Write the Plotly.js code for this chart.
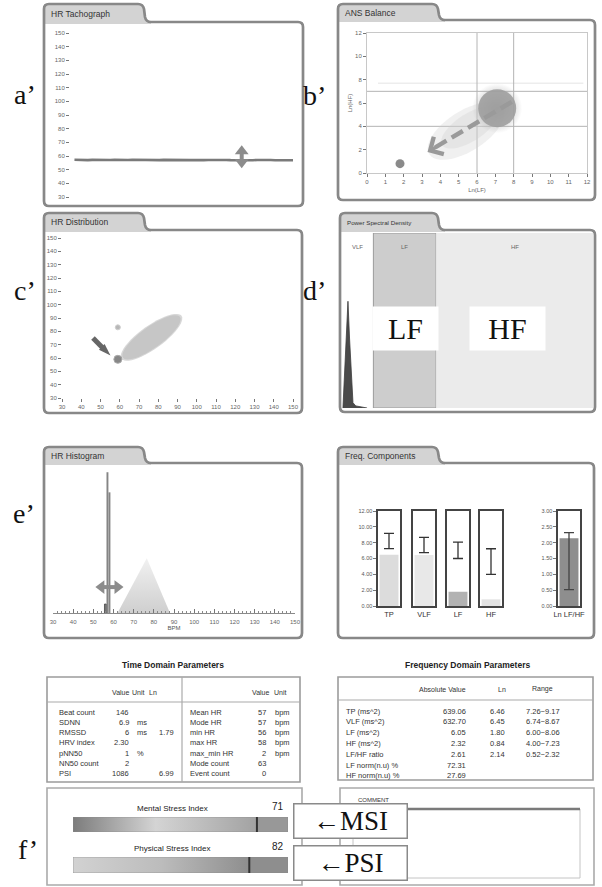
<!DOCTYPE html>
<html>
<head>
<meta charset="utf-8">
<script src="https://cdn.plot.ly/plotly-3.0.1.min.js"></script>
<style>
html,body{margin:0;padding:0;background:#fff;}
#chart{width:602px;height:887px;}
</style>
</head>
<body>
<div id="chart"></div>
<script>
// ---------------- data ----------------
// HR tachograph (bpm, successive samples)
const tachoHR = [57.3,57.1,56.9,57.0,57.2,57.1,56.8,56.9,57.1,57.2,57.0,56.9,57.1,57.3,57.2,57.0,57.1,56.9,56.8,57.0,
                 57.2,57.1,57.0,56.9,57.1,57.2,57.0,57.1,56.9,57.0,57.1,57.2,57.0,56.9,57.1,57.0,56.9,57.1,57.2,57.0,
                 56.9,57.1,57.2,57.0,57.1,56.9,57.0,57.1,57.0,56.9];
const tachoMarkIndex = 37.5;
const tachoMarkRange = [52.5, 66.5];

// ANS balance (Ln LF vs Ln HF)
const ansSubjectLnLF = [1.8];
const ansSubjectLnHF = [0.8];
const ansNormLnLF = [7.1];
const ansNormLnHF = [5.55];
const ansGridLnLF = [6, 8];
const ansGridLnHF = [4, 7];
const ansTrendFrom = [7.9, 6.1];
const ansTrendTo = [3.3, 1.8];

// HR distribution
const hrDistX = [59, 59];
const hrDistY = [83, 59];
const hrDistNormCenter = [76.5, 75.5];
const hrDistPointerFrom = [46.1, 75];
const hrDistPointerTo = [55.2, 61.8];

// Power spectral density
const psdBandNames = ['VLF', 'LF', 'HF'];
const psdBandEdges = [0, 0.05, 0.15, 0.40];
const psdFreq  = [0.0015, 0.0045, 0.0075, 0.0095, 0.012, 0.015, 0.0175, 0.022, 0.030, 0.040];
const psdPower = [0, 0.20, 0.45, 0.61, 0.40, 0.18, 0.03, 0.012, 0.006, 0];

// HR histogram
const histBpm   = [56, 57, 58];
const histCount = [4, 63, 54];
const histRefBpm   = [62, 76.5, 88];
const histRefCount = [0, 24.5, 0];
const histMarkY = 11.6;
const histMarkRange = [52, 64];

// Frequency components
const compNames = ['TP', 'VLF', 'LF', 'HF'];
const compLn    = [6.46, 6.45, 1.80, 0.84];
const compLo    = [7.26, 6.74, 6.00, 4.00];
const compHi    = [9.17, 8.67, 8.06, 7.23];
const ratioName = 'Ln LF/HF';
const ratioLn = 2.14, ratioLo = 0.52, ratioHi = 2.32;

// Tables
const timeLeftLabels = ['Beat count','SDNN','RMSSD','HRV index','pNN50','NN50 count','PSI'];
const timeLeftValues = ['146','6.9','6','2.30','1','2','1086'];
const timeLeftUnits  = ['','ms','ms','','%','',''];
const timeLeftLn     = ['','','1.79','','','','6.99'];
const timeRightLabels = ['Mean HR','Mode HR','min HR','max HR','max_min HR','Mode count','Event count'];
const timeRightValues = ['57','57','56','58','2','63','0'];
const timeRightUnits  = ['bpm','bpm','bpm','bpm','bpm','',''];

const freqLabels = ['TP (ms^2)','VLF (ms^2)','LF (ms^2)','HF (ms^2)','LF/HF ratio','LF norm(n.u) %','HF norm(n.u) %'];
const freqAbs    = ['639.06','632.70','6.05','2.32','2.61','72.31','27.69'];
const freqLn     = ['6.46','6.45','1.80','0.84','2.14','',''];
const freqRange  = ['7.26~9.17','6.74~8.67','6.00~8.06','4.00~7.23','0.52~2.32','',''];

// Stress indices
const msiValue = 71, msiScaleMax = 83;
const psiValue = 82, psiScaleMax = 100;

// ---------------- layout helpers ----------------
const W = 602, H = 887;
const FONT = 'Liberation Sans, Arial, sans-serif';
const SERIF = 'Liberation Serif, Times New Roman, serif';
const PX = x => x / W;
const PY = y => 1 - y / H;
const domX = (a, b) => [PX(a), PX(b)];
const domY = (top, bottom) => [PY(bottom), PY(top)];
const P = (x, y) => PX(x).toFixed(5) + ',' + PY(y).toFixed(5);

const panels = [
  {name:'HR Tachograph',          x0:44,  x1:303, ytab:4,   yf:22,  yb:206, xt:143, fs:8.5},
  {name:'ANS Balance',            x0:338, x1:595, ytab:4,   yf:20,  yb:200, xt:437, fs:8.5},
  {name:'HR Distribution',        x0:44,  x1:302, ytab:213, yf:230, yb:413, xt:143, fs:8.5},
  {name:'Power Spectral Density', x0:340, x1:595, ytab:213, yf:230, yb:412, xt:437, fs:6.2},
  {name:'HR Histogram',           x0:44,  x1:302, ytab:447, yf:463, yb:638, xt:143, fs:8.5},
  {name:'Freq. Components',       x0:338, x1:594, ytab:447, yf:463, yb:638, xt:437, fs:8.5}
];

function tabTop(p, r) {
  return `M${P(p.x0, p.yf + 2)} L${P(p.x0, p.ytab + r)} Q${P(p.x0, p.ytab)} ${P(p.x0 + r, p.ytab)} ` +
         `L${P(p.xt - r, p.ytab)} Q${P(p.xt, p.ytab)} ${P(p.xt + 1, p.ytab + r)} ` +
         `L${P(p.xt + 2, p.yf - r)} Q${P(p.xt + 3, p.yf)} ${P(p.xt + 3 + r, p.yf)}`;
}
function framePath(p) {
  const r = 5;
  return tabTop(p, r) +
    ` L${P(p.x1 - r, p.yf)} Q${P(p.x1, p.yf)} ${P(p.x1, p.yf + r)}` +
    ` L${P(p.x1, p.yb - r)} Q${P(p.x1, p.yb)} ${P(p.x1 - r, p.yb)}` +
    ` L${P(p.x0 + r, p.yb)} Q${P(p.x0, p.yb)} ${P(p.x0, p.yb - r)} Z`;
}
function tabFillPath(p) {
  return tabTop(p, 5) + ` L${P(p.xt + 3 + 5, p.yf + 2)} Z`;
}
function ellipsePath(c, a, b) {
  let s = '';
  for (let i = 0; i <= 48; i++) {
    const t = 2 * Math.PI * i / 48;
    const x = c[0] + a[0] * Math.cos(t) + b[0] * Math.sin(t);
    const y = c[1] + a[1] * Math.cos(t) + b[1] * Math.sin(t);
    s += (i ? 'L' : 'M') + x.toFixed(3) + ',' + y.toFixed(3);
  }
  return s + 'Z';
}
function txt(x, y, s, o) {
  return Object.assign({xref:'paper', yref:'paper', x:PX(x), y:PY(y), text:s, showarrow:false,
    xanchor:'left', yanchor:'middle', font:{family:FONT, size:7.5, color:'#333'}}, o || {});
}
const hidden = {visible:false, showgrid:false, zeroline:false, fixedrange:true};
const tickStyle = {ticks:'outside', ticklen:3, tickwidth:1, tickcolor:'#777',
  tickfont:{family:FONT, size:6, color:'#666'}, showgrid:false, zeroline:false, showline:false, fixedrange:true};

// ---------------- traces ----------------
const traces = [];

// a' tachograph
traces.push({type:'scatter', mode:'lines', x:tachoHR.map((_, i) => i), y:tachoHR, xaxis:'x', yaxis:'y',
  line:{color:'#7a7a7a', width:2.6}, hoverinfo:'skip'});
// double-headed range marker
traces.push({type:'scatter', mode:'lines', x:[tachoMarkIndex, tachoMarkIndex], y:[tachoMarkRange[0] + 2, tachoMarkRange[1] - 2],
  xaxis:'x', yaxis:'y', line:{color:'#8c8c8c', width:4}, hoverinfo:'skip'});
traces.push({type:'scatter', mode:'markers', x:[tachoMarkIndex, tachoMarkIndex], y:[tachoMarkRange[1] - 3, tachoMarkRange[0] + 3],
  xaxis:'x', yaxis:'y', marker:{symbol:['triangle-up', 'triangle-down'], size:12, color:'#8c8c8c', line:{width:0}}, hoverinfo:'skip'});

// b' ANS balance: soft norm area
traces.push({type:'scatter', mode:'markers', x:ansNormLnLF, y:ansNormLnHF, xaxis:'x2', yaxis:'y2',
  marker:{size:50, color:'rgba(158,158,158,0)', gradient:{type:'radial', color:'rgba(158,158,158,0.95)'}, line:{width:0}}, hoverinfo:'skip'});
traces.push({type:'scatter', mode:'markers', x:ansNormLnLF, y:ansNormLnHF, xaxis:'x2', yaxis:'y2',
  marker:{size:38, color:'rgba(158,158,158,0.9)', line:{width:0}}, hoverinfo:'skip'});
traces.push({type:'scatter', mode:'lines', x:[ansTrendFrom[0], ansTrendTo[0] + 0.35], y:[ansTrendFrom[1], ansTrendTo[1] + 0.33],
  xaxis:'x2', yaxis:'y2', line:{color:'#9a9a9a', width:4.5, dash:'13px,6px'}, hoverinfo:'skip'});
traces.push({type:'scatter', mode:'markers', x:ansSubjectLnLF, y:ansSubjectLnHF, xaxis:'x2', yaxis:'y2',
  marker:{size:9, color:'#8a8a8a', line:{width:0}}, hoverinfo:'skip'});

// c' HR distribution
traces.push({type:'scatter', mode:'markers', x:hrDistX, y:hrDistY, xaxis:'x3', yaxis:'y3',
  marker:{size:[5, 8], color:['#9a9a9a', '#555'], line:{width:1, color:['#bbb', '#888']}}, hoverinfo:'skip'});
traces.push({type:'scatter', mode:'lines', x:[hrDistPointerFrom[0], (hrDistPointerFrom[0] + hrDistPointerTo[0]) / 2 + 0.8],
  y:[hrDistPointerFrom[1], (hrDistPointerFrom[1] + hrDistPointerTo[1]) / 2 - 1.2], xaxis:'x3', yaxis:'y3',
  line:{color:'#666', width:5}, hoverinfo:'skip'});
traces.push({type:'scatter', mode:'markers', x:[hrDistPointerTo[0]], y:[hrDistPointerTo[1]], xaxis:'x3', yaxis:'y3',
  marker:{symbol:'arrow', size:13, angle:135, color:'#666', line:{width:0}}, hoverinfo:'skip'});

// d' PSD
traces.push({type:'scatter', mode:'lines', x:psdFreq, y:psdPower, xaxis:'x4', yaxis:'y4', fill:'tozeroy',
  fillcolor:'#4a4a4a', line:{color:'#3c3c3c', width:0.8}, hoverinfo:'skip'});

// e' HR histogram
traces.push({type:'scatter', mode:'lines', x:histRefBpm.concat([histRefBpm[0]]), y:histRefCount.concat([histRefCount[0]]),
  xaxis:'x5', yaxis:'y5', fill:'toself', fillcolor:'#dcdcdc',
  fillgradient:{type:'vertical', colorscale:[[0, '#cfcfcf'], [1, '#f1f1f1']]},
  line:{width:0}, hoverinfo:'skip'});
traces.push({type:'bar', x:histBpm, y:histCount, xaxis:'x5', yaxis:'y5', width:0.95,
  marker:{color:['#7a7a7a', '#858585', '#858585'], line:{width:[0.8, 0, 0], color:'#444'}}, hoverinfo:'skip'});
traces.push({type:'scatter', mode:'lines', x:[histMarkRange[0] + 1.5, histMarkRange[1] - 1.5], y:[histMarkY, histMarkY],
  xaxis:'x5', yaxis:'y5', line:{color:'#8c8c8c', width:4}, hoverinfo:'skip'});
traces.push({type:'scatter', mode:'markers', x:[histMarkRange[0] + 2, histMarkRange[1] - 2], y:[histMarkY, histMarkY],
  xaxis:'x5', yaxis:'y5', marker:{symbol:['triangle-left', 'triangle-right'], size:12, color:'#8c8c8c', line:{width:0}}, hoverinfo:'skip'});

// f' frequency components
compNames.forEach((n, i) => {
  const ax = String(6 + i);
  const fills = ['#dcdcdc', '#e8e8e8', '#b2b2b2', '#e2e2e2'];
  traces.push({type:'bar', x:[n], y:[compLn[i]], xaxis:'x' + ax, yaxis:'y' + ax, width:0.86,
    marker:{color:fills[i], line:{width:0}}, hoverinfo:'skip'});
  traces.push({type:'scatter', mode:'markers', x:[n], y:[(compLo[i] + compHi[i]) / 2], xaxis:'x' + ax, yaxis:'y' + ax,
    marker:{size:1, opacity:0}, error_y:{type:'data', array:[(compHi[i] - compLo[i]) / 2], visible:true,
    color:'#333', thickness:1.3, width:5}, hoverinfo:'skip'});
});
traces.push({type:'bar', x:[ratioName], y:[ratioLn], xaxis:'x10', yaxis:'y10', width:0.86,
  marker:{color:'#8e8e8e', line:{width:0}}, hoverinfo:'skip'});
traces.push({type:'scatter', mode:'markers', x:[ratioName], y:[(ratioLo + ratioHi) / 2], xaxis:'x10', yaxis:'y10',
  marker:{size:1, opacity:0}, error_y:{type:'data', array:[(ratioHi - ratioLo) / 2], visible:true,
  color:'#444', thickness:1.3, width:5}, hoverinfo:'skip'});

// stress index bars
function stressBar(val, max, ax, grad, rest) {
  traces.push({type:'scatter', mode:'lines', x:[0, val, val, 0, 0], y:[0, 0, 1, 1, 0], xaxis:'x' + ax, yaxis:'y' + ax,
    fill:'toself', fillcolor:grad[1][1], fillgradient:{type:'horizontal', colorscale:grad},
    line:{width:0.6, color:'#8a8a8a'}, hoverinfo:'skip'});
  traces.push({type:'scatter', mode:'lines', x:[val, max, max, val, val], y:[0, 0, 1, 1, 0], xaxis:'x' + ax, yaxis:'y' + ax,
    fill:'toself', fillcolor:rest, line:{width:0.6, color:'#8a8a8a'}, hoverinfo:'skip'});
  traces.push({type:'scatter', mode:'lines', x:[val, val], y:[0, 1], xaxis:'x' + ax, yaxis:'y' + ax,
    line:{width:2, color:'#333'}, hoverinfo:'skip'});
}
stressBar(msiValue, msiScaleMax, '11', [[0, '#7c7c7c'], [0.45, '#d4d4d4'], [1, '#a2a2a2']], '#989898');
stressBar(psiValue, psiScaleMax, '12', [[0, '#d2d2d2'], [0.5, '#bcbcbc'], [1, '#8e8e8e']], '#8e8e8e');

// ---------------- shapes ----------------
const shapes = [];
panels.forEach(p => {
  shapes.push({type:'path', xref:'paper', yref:'paper', path:tabFillPath(p), fillcolor:'#d3d3d3', line:{width:0}, layer:'below'});
});
// PSD bands
const bandFills = ['#ffffff', '#cdcdcd', '#ebebeb'];
psdBandNames.forEach((b, i) => {
  shapes.push({type:'rect', xref:'x4', yref:'y4', x0:psdBandEdges[i], x1:psdBandEdges[i + 1], y0:0, y1:1,
    fillcolor:bandFills[i], line:{width:i === 1 ? 1 : 0, color:'#9a9a9a'}, layer:'below'});
});
// ANS grid lines
shapes.push({type:'line', xref:'x2', yref:'y2', x0:0.6, x1:11.8, y0:7.7, y1:7.7, line:{color:'#e4e4e4', width:1}, layer:'below'});
ansGridLnLF.forEach(v => shapes.push({type:'line', xref:'x2', yref:'y2', x0:v, x1:v, y0:0, y1:12, line:{color:'#b4b4b4', width:1}, layer:'below'}));
ansGridLnHF.forEach(v => shapes.push({type:'line', xref:'x2', yref:'y2', x0:0, x1:12, y0:v, y1:v, line:{color:'#b4b4b4', width:1}, layer:'below'}));
// ANS haze between the norm area and the subject
shapes.push({type:'path', xref:'x2', yref:'y2', path:ellipsePath([5.4, 3.6], [2.0, 2.0], [0.6, -1.45]),
  fillcolor:'rgba(205,205,205,0.3)', line:{width:0}, layer:'below'});
shapes.push({type:'path', xref:'x2', yref:'y2', path:ellipsePath([5.6, 3.9], [1.5, 1.5], [0.4, -1.0]),
  fillcolor:'rgba(205,205,205,0.3)', line:{width:0}, layer:'below'});
// HR distribution normal area
shapes.push({type:'path', xref:'x3', yref:'y3', path:ellipsePath(hrDistNormCenter, [15.6, 16.1], [3.5, -7.1]),
  fillcolor:'#d8d8d8', line:{width:0}, layer:'below'});
shapes.push({type:'path', xref:'x3', yref:'y3', path:ellipsePath(hrDistNormCenter, [14.8, 15.3], [3.2, -6.5]),
  fillcolor:'#c6c6c6', line:{width:0}, layer:'below'});
// panel frames
panels.forEach(p => {
  shapes.push({type:'path', xref:'paper', yref:'paper', path:framePath(p), line:{color:'#888888', width:2.7}, layer:'above'});
});
// tables and lower boxes
const rect = (x0, y0, x1, y1, c, w) => ({type:'rect', xref:'paper', yref:'paper', x0:PX(x0), x1:PX(x1), y0:PY(y1), y1:PY(y0), line:{color:c, width:w}, layer:'above'});
const hline = (x0, x1, y, c, w) => ({type:'line', xref:'paper', yref:'paper', x0:PX(x0), x1:PX(x1), y0:PY(y), y1:PY(y), line:{color:c, width:w}, layer:'above'});
const vline = (x, y0, y1, c, w) => ({type:'line', xref:'paper', yref:'paper', x0:PX(x), x1:PX(x), y0:PY(y0), y1:PY(y1), line:{color:c, width:w}, layer:'above'});
shapes.push(rect(47, 677, 300, 782, '#9c9c9c', 1.6));
shapes.push(hline(47, 300, 702, '#aaaaaa', 1.2));
shapes.push(vline(182, 677, 782, '#aaaaaa', 1.2));
shapes.push(rect(338, 677, 593, 780, '#9c9c9c', 1.6));
shapes.push(hline(338, 593, 700, '#aaaaaa', 1.2));
shapes.push(rect(47, 788, 302, 885, '#aaaaaa', 1.6));
shapes.push(rect(340, 788, 594, 885, '#aaaaaa', 1.6));
shapes.push(rect(353, 809, 580, 878, '#c4c4c4', 1));
shapes.push(hline(353, 580, 809, '#7a7a7a', 2.5));

// ---------------- annotations ----------------
const ann = [];
// panel letters
[['a’', 25, 94], ['b’', 314, 95], ['c’', 25, 291], ['d’', 314, 291], ['e’', 24, 513], ['f’', 28, 849]].forEach(l => {
  ann.push(txt(l[1], l[2], l[0], {xanchor:'center', font:{family:SERIF, size:28, color:'#111'}}));
});
// tab captions
panels.forEach(p => {
  ann.push(txt(p.x0 + 5, (p.ytab + p.yf) / 2 + 1, p.name, {font:{family:FONT, size:p.fs, color:'#333'}}));
});
// ANS trend arrowhead
ann.push({xref:'x2', yref:'y2', axref:'x2', ayref:'y2', x:ansTrendTo[0], y:ansTrendTo[1], ax:ansTrendTo[0] + 0.55, ay:ansTrendTo[1] + 0.5,
  text:'', showarrow:true, arrowhead:4, arrowsize:1.1, arrowwidth:3.5, arrowcolor:'#999'});
// PSD band names and call-outs
psdBandNames.forEach((b, i) => {
  const xm = 342 + (psdBandEdges[i] + psdBandEdges[i + 1]) / 2 / 0.40 * 251;
  ann.push(txt(xm, 247, b, {xanchor:'center', font:{family:FONT, size:6, color:'#666'}}));
});
ann.push(txt(405.5, 328.5, 'LF', {xanchor:'center', width:65, height:43, bgcolor:'#ffffff', borderpad:0,
  font:{family:SERIF, size:30, color:'#111'}}));
ann.push(txt(507.5, 328.5, 'HF', {xanchor:'center', width:75, height:43, bgcolor:'#ffffff', borderpad:0,
  font:{family:SERIF, size:30, color:'#111'}}));

// time domain table
ann.push(txt(173, 665, '<b>Time Domain Parameters</b>', {xanchor:'center', font:{family:FONT, size:8.5, color:'#222'}}));
ann.push(txt(120, 692, 'Value', {xanchor:'center', font:{family:FONT, size:7, color:'#333'}}));
ann.push(txt(138, 692, 'Unit', {xanchor:'center', font:{family:FONT, size:7, color:'#333'}}));
ann.push(txt(153, 692, 'Ln', {xanchor:'center', font:{family:FONT, size:7, color:'#333'}}));
ann.push(txt(260, 692, 'Value', {xanchor:'center', font:{family:FONT, size:7, color:'#333'}}));
ann.push(txt(280, 692, 'Unit', {xanchor:'center', font:{family:FONT, size:7, color:'#333'}}));
timeLeftLabels.forEach((l, i) => {
  const y = 712 + i * 10.3;
  ann.push(txt(57, y, l));
  ann.push(txt(131, y, timeLeftValues[i], {xanchor:'right'}));
  if (timeLeftUnits[i]) ann.push(txt(135, y, timeLeftUnits[i]));
  if (timeLeftLn[i]) ann.push(txt(176, y, timeLeftLn[i], {xanchor:'right'}));
  ann.push(txt(188, y, timeRightLabels[i]));
  ann.push(txt(268, y, timeRightValues[i], {xanchor:'right'}));
  if (timeRightUnits[i]) ann.push(txt(273, y, timeRightUnits[i]));
});

// frequency domain table
ann.push(txt(467, 665, '<b>Frequency Domain Parameters</b>', {xanchor:'center', font:{family:FONT, size:8.5, color:'#222'}}));
ann.push(txt(442, 689, 'Absolute Value', {xanchor:'center', font:{family:FONT, size:7, color:'#333'}}));
ann.push(txt(502, 689, 'Ln', {xanchor:'center', font:{family:FONT, size:7, color:'#333'}}));
ann.push(txt(542, 689, 'Range', {xanchor:'center', font:{family:FONT, size:7, color:'#333'}}));
freqLabels.forEach((l, i) => {
  const y = 711 + i * 10.8;
  ann.push(txt(344, y, l));
  ann.push(txt(468, y, freqAbs[i], {xanchor:'right'}));
  if (freqLn[i]) ann.push(txt(507, y, freqLn[i], {xanchor:'right'}));
  if (freqRange[i]) ann.push(txt(524, y, freqRange[i]));
});

// stress index captions
ann.push(txt(172, 808, 'Mental Stress Index', {xanchor:'center', font:{family:FONT, size:8, color:'#222'}}));
ann.push(txt(286, 806, String(msiValue), {xanchor:'right', font:{family:FONT, size:10, color:'#222'}}));
ann.push(txt(172, 848, 'Physical Stress Index', {xanchor:'center', font:{family:FONT, size:8, color:'#222'}}));
ann.push(txt(286, 846, String(psiValue), {xanchor:'right', font:{family:FONT, size:10, color:'#222'}}));
ann.push(txt(356, 800, 'COMMENT', {font:{family:FONT, size:6, color:'#333'}}));
ann.push(txt(350.5, 820.5, '←MSI', {xanchor:'center', width:112, height:33, bgcolor:'#ffffff', bordercolor:'#8a8a8a',
  borderwidth:1.5, borderpad:0, font:{family:SERIF, size:27, color:'#111'}}));
ann.push(txt(350.5, 862.5, '←PSI', {xanchor:'center', width:112, height:33, bgcolor:'#ffffff', bordercolor:'#8a8a8a',
  borderwidth:1.5, borderpad:0, font:{family:SERIF, size:27, color:'#111'}}));

// ---------------- axes ----------------
const layout = {
  width:W, height:H, margin:{l:0, r:0, t:0, b:0}, showlegend:false,
  paper_bgcolor:'#ffffff', plot_bgcolor:'rgba(0,0,0,0)', font:{family:FONT},
  shapes:shapes, annotations:ann, barmode:'overlay',

  xaxis:Object.assign({}, hidden, {domain:domX(70, 293), range:[-1, tachoHR.length - 1], anchor:'y'}),
  yaxis:Object.assign({}, tickStyle, {domain:domY(33, 197), range:[30, 150], dtick:10, anchor:'x'}),

  xaxis2:Object.assign({}, tickStyle, {domain:domX(367, 587), range:[0, 12], dtick:1, anchor:'y2',
    showline:true, mirror:true, linecolor:'#c8c8c8', linewidth:1,
    title:{text:'Ln(LF)', font:{family:FONT, size:6, color:'#666'}, standoff:3}}),
  yaxis2:Object.assign({}, tickStyle, {domain:domY(33, 173), range:[0, 12], dtick:2, anchor:'x2',
    showline:true, mirror:true, linecolor:'#c8c8c8', linewidth:1,
    title:{text:'Ln(HF)', font:{family:FONT, size:6, color:'#666'}, standoff:2}}),

  xaxis3:Object.assign({}, tickStyle, {domain:domX(62, 293), range:[30, 150], dtick:10, anchor:'y3'}),
  yaxis3:Object.assign({}, tickStyle, {domain:domY(238, 398), range:[30, 150], dtick:10, anchor:'x3'}),

  xaxis4:Object.assign({}, hidden, {domain:domX(342, 593), range:[0, 0.40], anchor:'y4'}),
  yaxis4:Object.assign({}, hidden, {domain:domY(233, 408), range:[0, 1], anchor:'x4'}),

  xaxis5:Object.assign({}, tickStyle, {domain:domX(53, 295), range:[30, 150], dtick:10, anchor:'y5',
    ticks:'inside', ticklen:4, showline:true, linecolor:'#8a8a8a', linewidth:1, ticklabelstandoff:3,
    minor:{ticks:'inside', dtick:2, ticklen:2, tickcolor:'#888'},
    title:{text:'BPM', font:{family:FONT, size:6, color:'#555'}, standoff:1}}),
  yaxis5:Object.assign({}, hidden, {domain:domY(470, 613), range:[0, 64], anchor:'x5'}),

  xaxis11:Object.assign({}, hidden, {domain:domX(73, 288), range:[0, msiScaleMax], anchor:'y11'}),
  yaxis11:Object.assign({}, hidden, {domain:domY(817, 832), range:[0, 1], anchor:'x11'}),
  xaxis12:Object.assign({}, hidden, {domain:domX(73, 288), range:[0, psiScaleMax], anchor:'y12'}),
  yaxis12:Object.assign({}, hidden, {domain:domY(857, 873), range:[0, 1], anchor:'x12'})
};

const compBoxes = [[378, 400], [413, 435], [447, 469], [480, 502], [558, 580]];
compBoxes.forEach((b, i) => {
  const n = 6 + i;
  const isRatio = i === 4;
  layout['xaxis' + n] = {domain:domX(b[0], b[1]), type:'category', range:[-0.5, 0.5], anchor:'y' + n,
    showline:true, mirror:true, linecolor:'#444', linewidth:1.6, ticks:'', showgrid:false, zeroline:false,
    tickfont:{family:FONT, size:7.5, color:'#333'}, fixedrange:true};
  layout['yaxis' + n] = {domain:domY(511, 606), range:isRatio ? [0, 3] : [0, 12], anchor:'x' + n,
    showline:true, mirror:true, linecolor:'#444', linewidth:1.6, showgrid:false, zeroline:false, fixedrange:true,
    showticklabels:(i === 0 || isRatio), ticks:(i === 0 || isRatio) ? 'outside' : '', ticklen:3, tickcolor:'#777',
    tickvals:isRatio ? [0, 0.5, 1, 1.5, 2, 2.5, 3] : [0, 2, 4, 6, 8, 10, 12], tickformat:'.2f',
    tickfont:{family:FONT, size:5.5, color:'#555'}};
});

Plotly.newPlot('chart', traces, layout, {staticPlot:true, displayModeBar:false});
</script>
</body>
</html>
